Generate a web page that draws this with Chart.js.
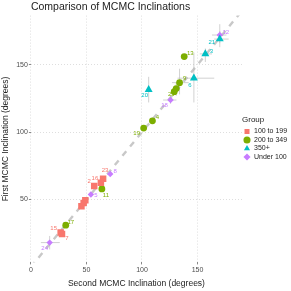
<!DOCTYPE html>
<html>
<head>
<meta charset="utf-8">
<script src="https://cdn.jsdelivr.net/npm/chart.js@4"></script>
<style>
  html, body { margin: 0; padding: 0; background: #fff; }
  #wrap { width: 291px; height: 291px; }
</style>
</head>
<body>
<div id="wrap"><canvas id="chart" width="291" height="291"></canvas></div>
<script>
// groups and colours
const groupNames = ["100 to 199", "200 to 349", "350+", "Under 100"];
const groupColors = ["#F8766D", "#7CAE00", "#00BFC4", "#C77CFF"];

// 100 to 199
const redIds = ["1", "10", "14", "2", "16", "23", "15", "7"];
const redX = [47.5, 45.5, 49, 57, 63, 65, 26.8, 28];
const redY = [47.5, 45, 49.5, 60, 62.5, 65.5, 25.5, 24.5];
const redXLo = [46, 44, 47.5, 55.5, 61.5, 63.5, 25.5, 26.5];
const redXHi = [49, 47, 50.5, 58.5, 64.5, 66.5, 28, 29.5];
const redYLo = [46, 43.5, 48, 58.5, 61, 64, 24, 23];
const redYHi = [49, 46.5, 51, 61.5, 64, 67, 27, 26];

// 200 to 349
const greenIds = ["13", "9", "25", "22", "4", "19", "11", "17"];
const greenX = [138, 133.8, 130.8, 129, 109.4, 101.5, 63.9, 31.4];
const greenY = [156, 136.7, 132.3, 130, 108.4, 103, 57.9, 31];
const greenXLo = [137, 127, 128, 127.5, 108, 100, 62.5, 30];
const greenXHi = [139, 142, 134, 130.5, 111, 103, 65.5, 33];
const greenYLo = [155, 128, 127, 128.5, 107, 101.5, 56.5, 29.5];
const greenYHi = [157, 147, 137, 131.5, 110, 104.5, 59.5, 32.5];

// 350+
const cyanIds = ["21", "3", "6", "20"];
const cyanX = [170, 157, 146.7, 106];
const cyanY = [169, 158, 140, 131.5];
const cyanXLo = [165, 152, 132, 105];
const cyanXHi = [178, 163, 165, 108];
const cyanYLo = [163, 152, 122, 122];
const cyanYHi = [175, 162, 159, 141];

// Under 100
const purpleIds = ["12", "18", "8", "5", "24"];
const purpleX = [170, 125.7, 71.4, 54, 16.9];
const purpleY = [172, 123.8, 68.9, 53.8, 18.1];
const purpleXLo = [163, 119, 70, 52.5, 9];
const purpleXHi = [176, 131, 73, 55.5, 26];
const purpleYLo = [166, 121, 67.5, 52.5, 13];
const purpleYHi = [180, 127, 70.5, 55.5, 23];

const xTicks = [0, 50, 100, 150];
const yTicks = [50, 100, 150];
const refLine = [0, 200];

const hideLabels = ["1", "10", "14", "22"];
// label nudges (px) like ggrepel placed them
const labelNudge = {
  "12": [6, -3], "21": [-8, 3], "3": [6, -3], "13": [6, -3], "6": [-4, 7],
  "9": [5, -4], "25": [-5, 6], "20": [-4, 6], "18": [-6, 5], "4": [5, -3],
  "19": [-7, 5], "8": [5, -3], "23": [2, -8], "16": [-6, -4], "11": [4, 6],
  "2": [-5, -5], "5": [5, 1], "17": [5, -3], "15": [-7, -4], "7": [5, 4], "24": [-5, 6]
};

function build(ids, xs, ys, xlo, xhi, ylo, yhi) {
  return ids.map((id, i) => ({ x: xs[i], y: ys[i], id: id,
    xlo: xlo[i], xhi: xhi[i], ylo: ylo[i], yhi: yhi[i] }));
}

const sets = [
  build(redIds, redX, redY, redXLo, redXHi, redYLo, redYHi),
  build(greenIds, greenX, greenY, greenXLo, greenXHi, greenYLo, greenYHi),
  build(cyanIds, cyanX, cyanY, cyanXLo, cyanXHi, cyanYLo, cyanYHi),
  build(purpleIds, purpleX, purpleY, purpleXLo, purpleXHi, purpleYLo, purpleYHi)
];
const shapes = ["rect", "circle", "triangle", "rectRot"];
const radii = [4.6, 3.4, 4.6, 3.2];

// dashed 1:1 line and error bars under the points
const underlay = {
  id: "underlay",
  beforeDatasetsDraw(chart) {
    const { ctx, chartArea, scales: { x, y } } = chart;
    ctx.save();
    ctx.beginPath();
    ctx.rect(chartArea.left, chartArea.top, chartArea.right - chartArea.left, chartArea.bottom - chartArea.top);
    ctx.clip();
    ctx.strokeStyle = "rgba(190,190,190,0.85)";
    ctx.lineWidth = 2.4;
    ctx.setLineDash([6, 6]);
    ctx.beginPath();
    ctx.moveTo(x.getPixelForValue(refLine[0]), y.getPixelForValue(refLine[0]));
    ctx.lineTo(x.getPixelForValue(refLine[1]), y.getPixelForValue(refLine[1]));
    ctx.stroke();
    ctx.setLineDash([]);
    ctx.strokeStyle = "rgba(185,185,185,0.65)";
    ctx.lineWidth = 1;
    sets.forEach(pts => pts.forEach(p => {
      const px = x.getPixelForValue(p.x), py = y.getPixelForValue(p.y);
      ctx.beginPath();
      ctx.moveTo(x.getPixelForValue(p.xlo), py);
      ctx.lineTo(x.getPixelForValue(p.xhi), py);
      ctx.moveTo(px, y.getPixelForValue(p.ylo));
      ctx.lineTo(px, y.getPixelForValue(p.yhi));
      ctx.stroke();
    }));
    ctx.restore();
  }
};

// id labels next to points
const idLabels = {
  id: "idLabels",
  afterDatasetsDraw(chart) {
    const { ctx, scales: { x, y } } = chart;
    ctx.save();
    ctx.font = "6px 'Liberation Sans', Arial, sans-serif";
    ctx.textAlign = "center";
    ctx.textBaseline = "middle";
    sets.forEach((pts, g) => {
      ctx.fillStyle = groupColors[g];
      pts.forEach(p => {
        if (hideLabels.includes(p.id)) return;
        const n = labelNudge[p.id] || [5, -3];
        ctx.fillText(p.id, x.getPixelForValue(p.x) + n[0], y.getPixelForValue(p.y) + n[1]);
      });
    });
    ctx.restore();
  }
};

const font = "'Liberation Sans', Arial, Helvetica, sans-serif";

new Chart(document.getElementById("chart"), {
  type: "scatter",
  data: {
    datasets: sets.map((pts, g) => ({
      label: groupNames[g],
      data: pts,
      pointStyle: shapes[g],
      pointRadius: radii[g],
      pointHoverRadius: radii[g],
      backgroundColor: groupColors[g],
      borderColor: groupColors[g],
      borderWidth: 0
    }))
  },
  options: {
    responsive: false,
    animation: false,
    layout: { padding: { left: 1, right: 0, top: 1, bottom: 2 } },
    scales: {
      x: {
        type: "linear",
        min: 0, max: 190,
        afterBuildTicks: s => { s.ticks = xTicks.map(v => ({ value: v })); },
        grid: { color: "#dedede", tickLength: 2, tickColor: "#888", drawTicks: true },
        border: { display: false, dash: [1, 2] },
        ticks: { color: "#4d4d4d", font: { family: font, size: 7 }, padding: 1, maxRotation: 0 },
        title: { display: true, text: "Second MCMC Inclination (degrees)", color: "#222",
          font: { family: font, size: 8.5 }, padding: { top: 4, bottom: 0 } }
      },
      y: {
        type: "linear",
        min: 3.4, max: 186.4,
        afterBuildTicks: s => { s.ticks = yTicks.map(v => ({ value: v })); },
        grid: { color: "#dedede", tickLength: 2, tickColor: "#888" },
        border: { display: false, dash: [1, 2] },
        ticks: { color: "#4d4d4d", font: { family: font, size: 7 }, padding: 1 },
        title: { display: true, text: "First MCMC Inclination (degrees)", color: "#222",
          font: { family: font, size: 8.5 }, padding: { top: 0, bottom: 4 } }
      }
    },
    plugins: {
      title: {
        display: true, text: "Comparison of MCMC Inclinations", align: "start", fullSize: false,
        color: "#222", font: { family: font, size: 10.5, weight: "normal" }, padding: { top: 0, bottom: 2 }
      },
      legend: {
        position: "right",
        fullSize: false,
        maxWidth: 49,
        title: { display: true, text: "Group", position: "start", color: "#222",
          font: { family: font, size: 8 }, padding: { top: 0, bottom: 1 } },
        labels: {
          usePointStyle: true, boxWidth: 11, boxHeight: 5, padding: 1.5,
          color: "#222", font: { family: font, size: 7 }
        }
      },
      tooltip: { enabled: false }
    }
  },
  plugins: [underlay, idLabels]
});
</script>
</body>
</html>
